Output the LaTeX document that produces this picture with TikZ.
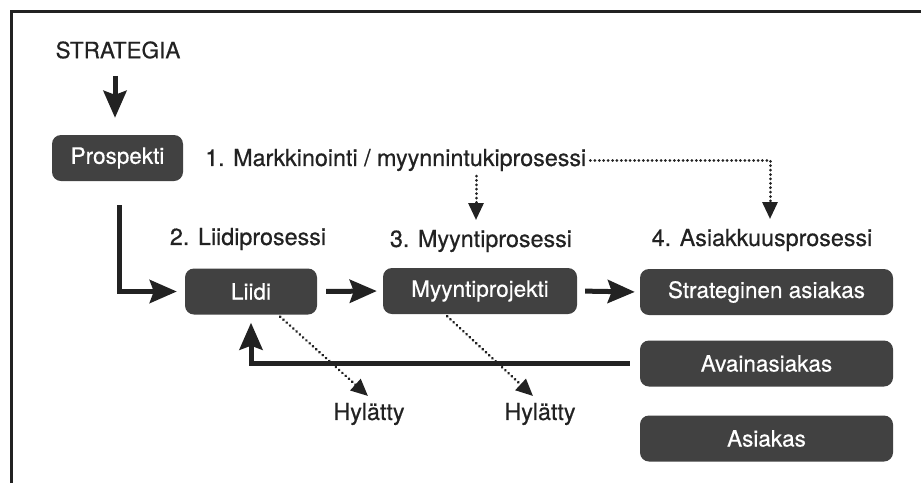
\documentclass[tikz,border=0pt]{standalone}
\usepackage{fontspec}
\setmainfont{TeX Gyre Heros}
\newfontfamily\medfont{TeX Gyre Heros}[FakeBold=0.5]
\usetikzlibrary{arrows.meta}
\definecolor{boxgray}{HTML}{414141}
\definecolor{ink}{HTML}{222222}
\begin{document}
\begin{tikzpicture}[x=1pt,y=-1pt,
  box/.style={fill=boxgray, rounded corners=9pt, text=white, inner sep=0pt,
    font=\medfont\fontsize{22.5}{26}\selectfont, minimum height=46pt},
  lbl/.style={text=ink, inner sep=0pt, font=\medfont\fontsize{23.3}{27}\selectfont},
  flow/.style={draw=ink, line width=5pt, -{Stealth[length=27pt,width=23pt,inset=4pt]}},
  dotflow/.style={draw=ink, line width=3pt, line cap=round,
    dash pattern=on 0.01pt off 4.4pt, -{Triangle[length=17pt,width=15pt]}}]
\useasboundingbox (0,0) rectangle (921,483);
\fill[white] (0,0) rectangle (921,483);
\draw[ink, line width=3pt] (11,483) -- (11,11) -- (921,11);

% nodes
\node[lbl, font=\medfont\fontsize{22.5}{26}\selectfont] (strat) at (118,50) {STRATEGIA};
\node[box, minimum width=131pt] (prosp) at (117.5,158) {Prospekti};
\node[lbl, anchor=west] (h1) at (205,160) {1. Markkinointi / myynnintukiprosessi};
\node[lbl] (h2) at (248,239) {2. Liidiprosessi};
\node[lbl] (h3) at (481,241) {3. Myyntiprosessi};
\node[lbl] (h4) at (762,240) {4. Asiakkuusprosessi};
\node[box, minimum width=132pt] (liidi) at (251,291.5) {Liidi};
\node[box, minimum width=194pt] (myynti) at (480,291) {Myyntiprojekti};
\node[box, minimum width=253pt] (strg) at (766.5,292) {Strateginen asiakas};
\node[box, minimum width=253pt] (avain) at (766.5,363.5) {Avainasiakas};
\node[box, minimum width=253pt] (asiak) at (766.5,438.5) {Asiakas};
\node[lbl] (hyl1) at (369,414) {Hylätty};
\node[lbl] (hyl2) at (540,414) {Hylätty};

\coordinate (d3a) at (476,176);
\coordinate (d3b) at (476,220);
\coordinate (d4) at (770,219);
\coordinate (pl) at (119,205);

% solid connectors
\draw[flow, shorten <=17pt, shorten >=17pt] (strat.south -| 115,0) -- (prosp.north -| 115,0);
\draw[flow, shorten >=8pt] (pl) |- (liidi.west);
\draw[flow, shorten <=9pt, shorten >=6pt] (liidi.east) -- (myynti.west);
\draw[flow, shorten <=8pt, shorten >=5pt] (myynti.east) -- (strg.west);
\draw[flow, shorten <=10pt, shorten >=8pt] (avain.west) -| (liidi.south);

% dotted connectors
\draw[dotflow] (h1.east) ++(4,0) -| (d4);
\draw[dotflow] (d3a) -- (d3b);
\draw[dotflow, shorten <=3pt] ([xshift=27pt]liidi.south) -- (368,396);
\draw[dotflow, shorten <=3pt] ([xshift=-35pt]myynti.south) -- (533,396);
\end{tikzpicture}
\end{document}
